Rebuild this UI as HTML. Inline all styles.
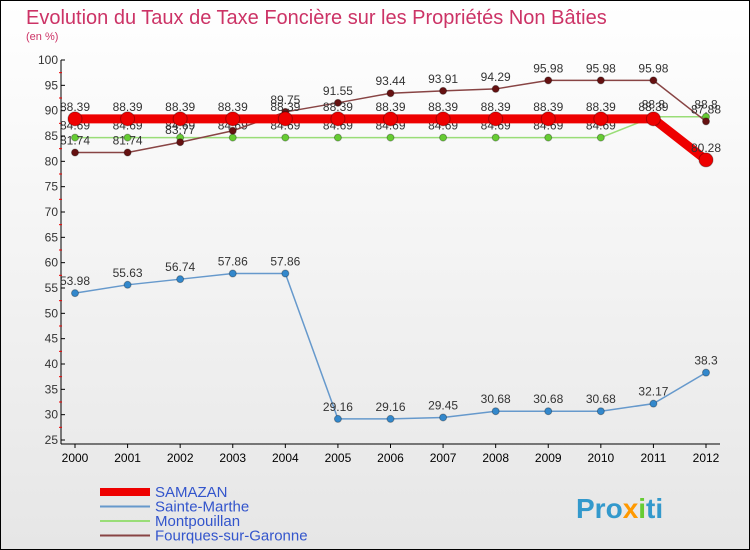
<!DOCTYPE html>
<html><head><meta charset="utf-8"><style>
body{margin:0;width:750px;height:550px;overflow:hidden;font-family:"Liberation Sans",sans-serif}
#c{position:absolute;left:0;top:0;width:748px;height:548px;border:1px solid #000;background:linear-gradient(#fff,#e6e6e6)}
</style></head><body>
<div id="c"></div>
<svg id="s" width="750" height="550" style="position:absolute;left:0;top:0">
<text x="26" y="24" font-size="20" fill="#cc3366">Evolution du Taux de Taxe Foncière sur les Propriétés Non Bâties</text>
<text x="26" y="40" font-size="11" fill="#cc3366">(en %)</text>
<g id="axes"></g><g id="series"></g><g id="legend"></g>
<text x="576" y="518" font-size="28" font-weight="bold" fill="#3399cc">Pro<tspan fill="#ff9900">x</tspan><tspan fill="#66cc33">i</tspan>ti</text>
</svg>
<script>
const years=[2000,2001,2002,2003,2004,2005,2006,2007,2008,2009,2010,2011,2012];
const samazan=[88.39,88.39,88.39,88.39,88.39,88.39,88.39,88.39,88.39,88.39,88.39,88.39,80.28];
const sainte=[53.98,55.63,56.74,57.86,57.86,29.16,29.16,29.45,30.68,30.68,30.68,32.17,38.3];
const montp=[84.69,84.69,84.69,84.69,84.69,84.69,84.69,84.69,84.69,84.69,84.69,88.8,88.8];
const fourq=[81.74,81.74,83.77,86.03,89.75,91.55,93.44,93.91,94.29,95.98,95.98,95.98,87.88];
const yTicks=[25,30,35,40,45,50,55,60,65,70,75,80,85,90,95,100];
const NS='http://www.w3.org/2000/svg';
const X=i=>75+i*(706-75)/12, Y=v=>60+(100-v)*(440-60)/75;
function mk(p,t,a){const e=document.createElementNS(NS,t);for(const k in a)e.setAttribute(k,a[k]);p.appendChild(e);return e;}
const ax=document.getElementById('axes');
let l=mk(ax,'line',{x1:61,y1:60,x2:61,y2:444,stroke:'#000'});

l=mk(ax,'line',{x1:61,y1:444,x2:720,y2:444,stroke:'#000'});

yTicks.forEach(v=>{mk(ax,'line',{x1:61,y1:Y(v),x2:65,y2:Y(v),stroke:'#000'});
 if(v<100)mk(ax,'line',{x1:59,y1:Y(v+2.5),x2:62,y2:Y(v+2.5),stroke:'#e00'});
 const t=mk(ax,'text',{x:58,y:Y(v)+4,'font-size':12,'text-anchor':'end',fill:'#333'});t.textContent=v;
 });
years.forEach((y,i)=>{mk(ax,'line',{x1:X(i),y1:444,x2:X(i),y2:448,stroke:'#000'});
 const t=mk(ax,'text',{x:X(i),y:462,'font-size':12,'text-anchor':'middle',fill:'#000'});t.textContent=y;
 });
const sg=document.getElementById('series');
function series(d,name,col,lw,r,mc){
 const g=mk(sg,'g',{});
 const p=mk(g,'polyline',{points:d.map((v,i)=>X(i)+','+Y(v)).join(' '),fill:'none',stroke:col,'stroke-width':lw});
 
 d.forEach((v,i)=>{const c=mk(g,'circle',{cx:X(i),cy:Y(v),r:r,fill:mc,stroke:'rgba(0,0,0,0.3)'});
  
  const t=mk(g,'text',{x:X(i),y:Y(v)-8,'font-size':12,'text-anchor':'middle',fill:'#333'});t.textContent=v;
  });
}
series(sainte,'sainte-marthe','#6699cc',1.5,3.5,'#3388cc');
series(montp,'montpouillan','#99dd77',1.5,3.5,'#66cc33');
series(fourq,'fourques','#884444',1.5,3.5,'#661111');
series(samazan,'samazan','#ee0000',9,7,'#ee0000');
const lg=document.getElementById('legend');
const leg=[['SAMAZAN','#ee0000',8],['Sainte-Marthe','#6699cc',2],['Montpouillan','#99dd77',2],['Fourques-sur-Garonne','#884444',2]];
leg.forEach((e,i)=>{const y=492+i*14.5;
 const r=mk(lg,'line',{x1:100,y1:y,x2:150,y2:y,stroke:e[1],'stroke-width':e[2]});
 
 const t=mk(lg,'text',{x:155,y:y+5,'font-size':15,fill:'#3355cc'});t.textContent=e[0];
 });
</script>
</body></html>
